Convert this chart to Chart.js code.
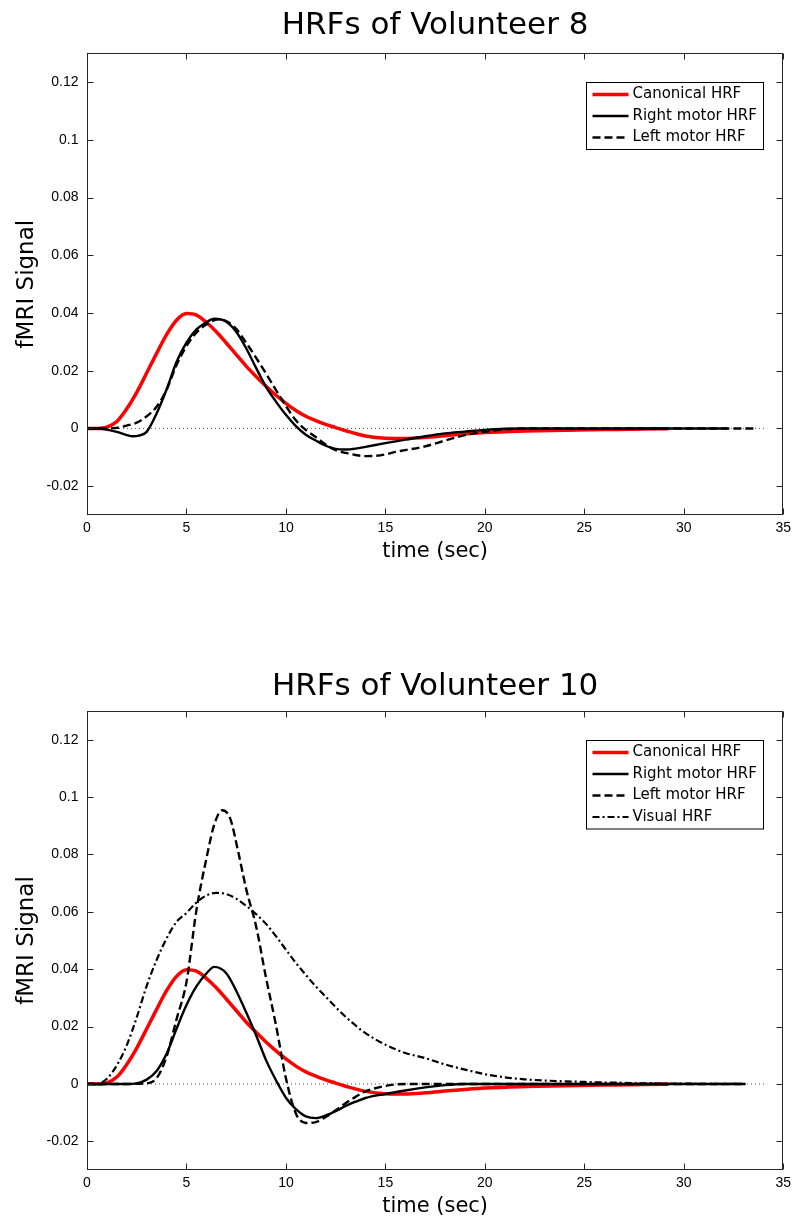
<!DOCTYPE html>
<html>
<head>
<meta charset="utf-8">
<title>HRFs of Volunteers 8 and 10</title>
<script src="https://cdn.jsdelivr.net/npm/chart.js@4.4.1/dist/chart.umd.min.js"></script>
<style>
  html, body { margin: 0; padding: 0; background: #fff; }
  #wrap { position: relative; width: 796px; height: 1219px; }
  canvas { position: absolute; left: 0; }
  #chart8 { top: 0; }
  #chart10 { top: 600px; }
</style>
</head>
<body>
<div id="wrap">
  <canvas id="chart8" width="796" height="600"></canvas>
  <canvas id="chart10" width="796" height="619"></canvas>
</div>
<script>
// axis ticks
const xTicks = [0, 5, 10, 15, 20, 25, 30, 35];
const yTicks = [-0.02, 0, 0.02, 0.04, 0.06, 0.08, 0.1, 0.12];

// canonical HRF (same curve in both panels)
const canonT = [0, 0.5, 1, 1.5, 2, 2.5, 3, 3.5, 4, 4.5, 5, 5.5, 6, 6.5, 7, 7.5, 8, 8.5, 9, 9.5,
  10, 10.5, 11, 11.5, 12, 12.5, 13, 14, 15, 16, 17, 18, 19, 20, 22, 24, 26, 28, 29.2];
const canonY = [0, 0, 0.0004, 0.0024, 0.0068, 0.0125, 0.0192, 0.026, 0.0325, 0.0375,
  0.0398, 0.0393, 0.0368, 0.0335, 0.0296, 0.0256, 0.0216, 0.018, 0.0146, 0.0115,
  0.0087, 0.0062, 0.0042, 0.0027, 0.0014, 0.0003, -0.0008, -0.0026, -0.0034, -0.0035,
  -0.0031, -0.0025, -0.0019, -0.0014, -0.0009, -0.0006, -0.0004, -0.0002, -0.0001];

// volunteer 8
const v8RightT = [0, 0.5, 1, 1.5, 2, 2.3, 2.6, 3, 3.5, 4, 4.5, 5, 5.5, 6, 6.4, 7, 7.5, 8, 8.5, 9,
  9.5, 10, 10.5, 11, 11.5, 12, 12.5, 13, 13.5, 14, 15, 16, 17, 18, 19, 20, 21, 22, 25, 28, 32.2];
const v8RightY = [0, 0, -0.0004, -0.0012, -0.0023, -0.0027, -0.0025, -0.0012, 0.0052, 0.0135,
  0.023, 0.0297, 0.0343, 0.0368, 0.038, 0.037, 0.0335, 0.0278, 0.021, 0.0144,
  0.0093, 0.0047, 0.0008, -0.0022, -0.0042, -0.006, -0.0071, -0.0073, -0.007, -0.0064,
  -0.0051, -0.0039, -0.0027, -0.0017, -0.0011, -0.0005, -0.0001, 0, 0, 0, 0];
const v8LeftT = [0, 1, 1.5, 2, 2.5, 3, 3.5, 4, 4.5, 5, 5.5, 6, 6.6, 7, 7.5, 8, 8.5, 9, 9.5, 10,
  10.5, 11, 11.5, 12, 12.5, 13, 13.5, 14, 14.5, 15, 15.5, 16, 17, 18, 19, 20, 21, 22, 25, 28, 33.7];
const v8LeftY = [0, 0, 0.0002, 0.001, 0.002, 0.0042, 0.0075, 0.0134, 0.022, 0.0285,
  0.0332, 0.036, 0.0378, 0.0372, 0.0345, 0.0297, 0.0245, 0.019, 0.0133, 0.0078,
  0.0028, -0.0005, -0.003, -0.0056, -0.0075, -0.0085, -0.0092, -0.0096, -0.0095, -0.009,
  -0.0081, -0.0075, -0.0062, -0.0042, -0.0023, -0.0012, -0.0003, 0, 0, 0, 0];

// volunteer 10
const v10RightT = [0, 1, 2, 2.5, 3, 3.5, 4, 4.5, 5, 5.5, 6, 6.4, 7, 7.5, 8, 8.5, 9, 9.5, 10, 10.5,
  11, 11.5, 12, 12.5, 13, 13.5, 14, 15, 16, 17, 18, 19, 22, 26, 30, 33.1];
const v10RightY = [0, 0, 0, 0.0002, 0.0015, 0.0045, 0.0105, 0.0192, 0.0275, 0.034,
  0.0385, 0.0408, 0.0386, 0.0325, 0.025, 0.017, 0.0083, 0.0013, -0.0048, -0.0088,
  -0.0113, -0.0119, -0.011, -0.0095, -0.0077, -0.0062, -0.0049, -0.0035, -0.0023, -0.0012,
  -0.0004, 0, 0, 0, 0, 0];
const v10LeftT = [0, 1, 2, 3, 3.5, 4, 4.5, 5, 5.5, 6, 6.4, 6.8, 7.2, 7.6, 8, 8.5, 9, 9.5, 10, 10.5,
  11, 11.5, 12, 12.5, 13, 13.5, 14, 15, 16, 20, 25, 30, 33.1];
const v10LeftY = [0, 0, 0, 0.0002, 0.002, 0.0095, 0.0225, 0.0355, 0.0605, 0.0785,
  0.0905, 0.0954, 0.0925, 0.081, 0.068, 0.055, 0.037, 0.0205, 0.002, -0.0103,
  -0.0136, -0.0133, -0.0115, -0.0092, -0.0067, -0.0045, -0.0026, -0.0007, 0, 0,
  0, 0, 0];
const v10VisualT = [0, 0.5, 1, 1.5, 2, 2.5, 3, 3.5, 4, 4.5, 5, 5.5, 6, 6.5, 7, 7.5, 8, 8.5, 9, 9.5,
  10, 10.5, 11, 11.5, 12, 12.5, 13, 13.5, 14, 15, 16, 17, 18, 19, 20, 21, 22, 23, 24, 25,
  26, 27, 28, 30, 33.1];
const v10VisualY = [0, 0, 0.0018, 0.0065, 0.0135, 0.0232, 0.0342, 0.0432, 0.0507, 0.0565,
  0.0596, 0.0632, 0.0657, 0.0666, 0.0662, 0.0646, 0.0621, 0.0592, 0.0558, 0.0515,
  0.0468, 0.0422, 0.038, 0.034, 0.0304, 0.0268, 0.0234, 0.0204, 0.0177, 0.0137,
  0.0108, 0.009, 0.0068, 0.005, 0.0034, 0.0023, 0.0016, 0.0012, 0.0009, 0.0007,
  0.0005, 0.0004, 0.0002, 0.0001, 0];

// dotted zero reference line
const zeroT = [0, 34.2];
const zeroY = [0, 0];

const pts = (t, y) => t.map((v, i) => ({ x: v, y: y[i] }));

function line(label, t, y, color, width, dash, order) {
  return {
    label, data: pts(t, y), borderColor: color, borderWidth: width,
    borderDash: dash, order, fill: false, pointRadius: 0
  };
}

function zeroLine() {
  const ds = line("", zeroT, zeroY, "#555", 1, [1, 3], 10);
  ds.isRef = true;
  return ds;
}

// MATLAB style box, inward ticks on all sides and a boxed legend
const matlabAxes = {
  id: "matlabAxes",
  afterDatasetsDraw(chart) {
    const { ctx, chartArea: a, scales: { x, y } } = chart;
    const L = Math.round(a.left) + 0.5, R = Math.round(a.right) - 0.5;
    const T = Math.round(a.top) + 0.5, B = Math.round(a.bottom) - 0.5;
    const tl = 6;
    ctx.save();
    ctx.strokeStyle = "#262626";
    ctx.lineWidth = 1;
    ctx.strokeRect(L, T, R - L, B - T);
    ctx.beginPath();
    xTicks.forEach(v => {
      const px = Math.round(x.getPixelForValue(v)) + 0.5;
      ctx.moveTo(px, B); ctx.lineTo(px, B - tl);
      ctx.moveTo(px, T); ctx.lineTo(px, T + tl);
    });
    yTicks.forEach(v => {
      const py = Math.round(y.getPixelForValue(v)) + 0.5;
      ctx.moveTo(L, py); ctx.lineTo(L + tl, py);
      ctx.moveTo(R, py); ctx.lineTo(R - tl, py);
    });
    ctx.stroke();
    ctx.restore();
  },
  afterDraw(chart) {
    const { ctx, chartArea: a } = chart;
    const items = chart.data.datasets.filter(d => !d.isRef);
    const w = 177, rowH = 21.5;
    const h = 24 + (items.length - 1) * rowH;
    const left = Math.round(a.right - 20 - w) + 0.5;
    const top = Math.round(a.top + 29) + 0.5;
    ctx.save();
    ctx.fillStyle = "#fff";
    ctx.fillRect(left, top, w, h);
    ctx.strokeStyle = "#000";
    ctx.lineWidth = 1;
    ctx.strokeRect(left, top, w, h);
    ctx.font = "15px 'DejaVu Sans'";
    ctx.textBaseline = "middle";
    ctx.fillStyle = "#000";
    items.forEach((d, i) => {
      const yy = top + 12 + i * rowH;
      ctx.beginPath();
      ctx.strokeStyle = d.borderColor;
      ctx.lineWidth = d.borderWidth;
      ctx.setLineDash(d.borderDash || []);
      ctx.moveTo(left + 6, yy);
      ctx.lineTo(left + 42, yy);
      ctx.stroke();
      ctx.setLineDash([]);
      ctx.fillText(d.label, left + 46, yy);
    });
    ctx.restore();
  }
};

const tickFont = { family: "'Liberation Sans', Arial, sans-serif", size: 14 };

function makeChart(id, title, datasets, lay) {
  return new Chart(document.getElementById(id), {
    type: "line",
    data: { datasets },
    options: {
      responsive: false,
      animation: false,
      events: [],
      layout: { padding: { left: 0, right: 10, top: 0, bottom: 0 } },
      elements: { line: { cubicInterpolationMode: "monotone" }, point: { radius: 0 } },
      plugins: {
        legend: { display: false },
        tooltip: { enabled: false },
        title: {
          display: true, text: title, fullSize: false, color: "#000",
          font: { family: "DejaVu Sans", size: 31, weight: "normal", lineHeight: 1.2 },
          padding: { top: lay.titleTop, bottom: lay.titleBottom }
        }
      },
      scales: {
        x: {
          type: "linear", min: 0, max: 35,
          afterBuildTicks: s => { s.ticks = xTicks.map(v => ({ value: v })); },
          afterFit: s => { s.height = lay.xHeight; },
          grid: { display: false, drawTicks: false }, border: { display: false },
          ticks: {
            padding: 5, color: "#000", maxRotation: 0, autoSkip: false,
            font: tickFont,
            callback: v => String(v)
          },
          title: {
            display: true, text: "time (sec)", color: "#000",
            font: { family: "DejaVu Sans", size: 21 },
            padding: { top: 0, bottom: lay.xTitleBottom }
          }
        },
        y: {
          type: "linear", min: -0.03, max: 0.13,
          afterBuildTicks: s => { s.ticks = yTicks.map(v => ({ value: v })); },
          afterFit: s => { s.width = 87; },
          grid: { display: false, drawTicks: false }, border: { display: false },
          ticks: {
            padding: 8.5, color: "#000", autoSkip: false,
            font: tickFont,
            callback: v => String(v)
          },
          title: {
            display: true, text: "fMRI Signal", color: "#000",
            font: { family: "DejaVu Sans", size: 23 },
            padding: { top: 13, bottom: 0 }
          }
        }
      }
    },
    plugins: [matlabAxes]
  });
}

makeChart("chart8", "HRFs of Volunteer 8", [
  line("Canonical HRF", canonT, canonY, "#ff0000", 3.5, [], 4),
  line("Right motor HRF", v8RightT, v8RightY, "#000", 2.4, [], 3),
  line("Left motor HRF", v8LeftT, v8LeftY, "#000", 2.4, [8, 4], 2),
  zeroLine()
], { titleTop: 7.4, titleBottom: 8.7, xHeight: 85, xTitleBottom: 36 });

makeChart("chart10", "HRFs of Volunteer 10", [
  line("Canonical HRF", canonT, canonY, "#ff0000", 3.5, [], 4),
  line("Right motor HRF", v10RightT, v10RightY, "#000", 2.4, [], 3),
  line("Left motor HRF", v10LeftT, v10LeftY, "#000", 2.4, [8, 4], 2),
  line("Visual HRF", v10VisualT, v10VisualY, "#000", 2.2, [7, 3, 2, 3], 1),
  zeroLine()
], { titleTop: 68.4, titleBottom: 5.4, xHeight: 49, xTitleBottom: 0 });
</script>
</body>
</html>
